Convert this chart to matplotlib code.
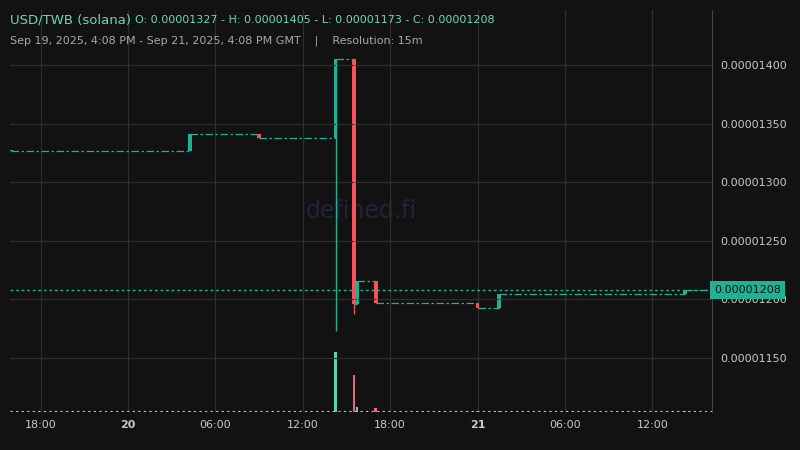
import matplotlib.pyplot as plt
from matplotlib.ticker import FixedLocator

# time in hours from Sep 19 16:00 GMT, prices in units of 1e-8
times = [0.0, 12.25, 17.0, 22.25, 23.5, 23.75, 25.0, 32.0, 33.5, 46.25]
opens = [1327, 1327, 1341, 1338, 1405, 1196, 1216, 1197, 1193, 1205]
highs = [1327, 1341, 1341, 1405, 1405, 1216, 1216, 1197, 1205, 1208]
lows = [1327, 1327, 1338, 1173, 1188, 1196, 1197, 1193, 1193, 1205]
closes = [1327, 1341, 1338, 1405, 1196, 1216, 1197, 1193, 1205, 1208]
volumes = [0.3, 1.0, 0.5, 60, 37, 5, 4, 0.6, 1.2, 1.0]

tick_pos = [2, 8, 14, 20, 26, 32, 38, 44]
tick_labels = ['18:00', '20', '06:00', '12:00', '18:00', '21', '06:00', '12:00']
price_ticks = [1150, 1200, 1250, 1300, 1350, 1400]
last_price = 1208

bg = '#121212'
up = '#1fb192'
down = '#f5525a'
txt = '#c8c8c8'

fig = plt.figure(figsize=(8, 4.5), dpi=100, facecolor=bg)
ax = fig.add_axes([0.0125, 0.0844, 0.8775, 0.8936], facecolor=bg)
vax = ax.twinx()
vax.set_ylim(0, 402)
vax.axis('off')
ax.set_zorder(vax.get_zorder() + 1)
ax.patch.set_visible(False)

w = 0.27
for i, t in enumerate(times):
    o, h, l, c = opens[i], highs[i], lows[i], closes[i]
    col = up if c >= o else down
    ax.vlines(t, l, h, color=col, lw=1)
    lo, hi = min(o, c), max(o, c)
    ax.bar(t, max(hi - lo, 0.3), bottom=lo, width=w, color=col, lw=0)
    # flat stretch until next trade
    nxt = times[i + 1] if i + 1 < len(times) else 48.1
    ax.plot([t, nxt], [c, c], color=up, lw=0.9, dashes=(6, 2, 2, 2))
    vcol = '#5fd0b0' if c >= o else '#e06c80'
    vax.bar(t, volumes[i], width=0.15, color=vcol, lw=0)

ax.axhline(last_price, color=up, lw=1, ls=(0, (2, 2)))
ax.axhline(1104.5, color='#9fd8cc', lw=0.8, ls=(0, (2, 3)))

ax.set_xlim(-0.1, 48.1)
ax.set_ylim(1104, 1447)
ax.xaxis.set_major_locator(FixedLocator(tick_pos))
ax.set_xticklabels(tick_labels)
for lab in ax.get_xticklabels():
    if lab.get_text() in ('20', '21'):
        lab.set_fontweight('bold')
ax.yaxis.tick_right()
ax.set_yticks(price_ticks)
ax.set_yticklabels(['0.%08d' % p for p in price_ticks])
ax.tick_params(colors=txt, labelsize=8, length=0, pad=6)
ax.grid(color='#2e2e2e', lw=0.9)
for s in ax.spines.values():
    s.set_visible(False)
ax.spines['right'].set_visible(True)
ax.spines['right'].set_color('#444444')

ax.text(1.003, last_price, '0.%08d' % last_price, transform=ax.get_yaxis_transform(),
        va='center', ha='left', fontsize=8, color='#111111',
        bbox=dict(boxstyle='square,pad=0.35', fc=up, ec='none'))

ax.text(0.5, 0.5, 'defined.fi', transform=ax.transAxes, ha='center', va='center',
        fontsize=17, color='#22223a', zorder=0)

fig.text(0.0125, 0.955, 'USD/TWB (solana)', color='#6fd6bb', fontsize=9.5, va='center')
fig.text(0.169, 0.955, 'O: 0.00001327 - H: 0.00001405 - L: 0.00001173 - C: 0.00001208',
         color='#6fd6bb', fontsize=8, va='center')
fig.text(0.0125, 0.91, 'Sep 19, 2025, 4:08 PM - Sep 21, 2025, 4:08 PM GMT    |    Resolution: 15m',
         color='#a8a8a8', fontsize=8, va='center')

fig.savefig('out.png', dpi=100, facecolor=bg)
